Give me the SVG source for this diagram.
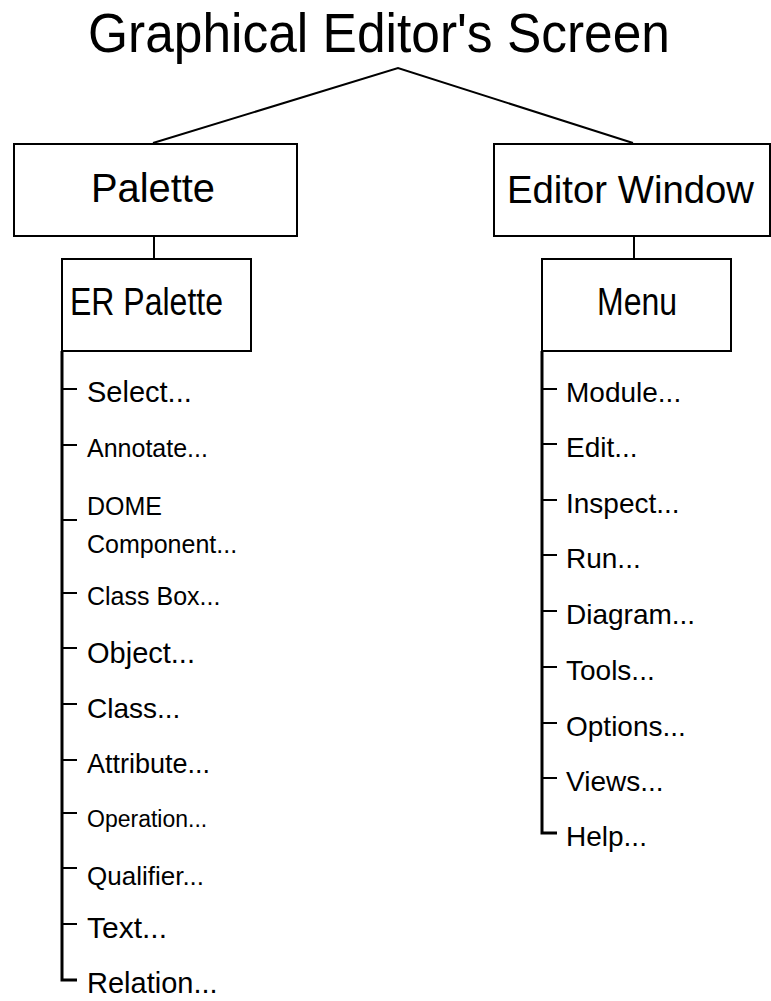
<svg xmlns="http://www.w3.org/2000/svg" width="771" height="1001" viewBox="0 0 771 1001">
  <style>
    text { font-family: "Liberation Sans", Arial, sans-serif; fill: #000; }
    .box { fill: #fff; stroke: #000; stroke-width: 2; }
    .link { fill: none; stroke: #000; stroke-width: 2; }
    .trunk { fill: none; stroke: #000; stroke-width: 3; }
    .tick { stroke: #000; stroke-width: 2; }
  </style>
  <rect width="771" height="1001" fill="#fff"/>

  <!-- title -->
  <g id="title">
    <text x="88" y="52" font-size="55" textLength="582" lengthAdjust="spacingAndGlyphs">Graphical Editor's Screen</text>
  </g>

  <!-- connectors -->
  <g id="connectors">
    <polyline class="link" points="153,143 398,68 633,143"/>
    <line class="link" x1="154" y1="237" x2="154" y2="259"/>
    <line class="link" x1="634" y1="237" x2="634" y2="259"/>
    <!-- ER palette tree -->
    <path class="trunk" d="M62 351 V980 H77"/>
    <g class="tick">
      <line x1="62" y1="389" x2="77" y2="389"/>
      <line x1="62" y1="445" x2="77" y2="445"/>
      <line x1="62" y1="520" x2="77" y2="520"/>
      <line x1="62" y1="593" x2="77" y2="593"/>
      <line x1="62" y1="648" x2="77" y2="648"/>
      <line x1="62" y1="704" x2="77" y2="704"/>
      <line x1="62" y1="760" x2="77" y2="760"/>
      <line x1="62" y1="813" x2="77" y2="813"/>
      <line x1="62" y1="868" x2="77" y2="868"/>
      <line x1="62" y1="924" x2="77" y2="924"/>
    </g>
    <!-- menu tree -->
    <path class="trunk" d="M542 351 V833 H557"/>
    <g class="tick">
      <line x1="542" y1="389" x2="557" y2="389"/>
      <line x1="542" y1="444" x2="557" y2="444"/>
      <line x1="542" y1="500" x2="557" y2="500"/>
      <line x1="542" y1="555" x2="557" y2="555"/>
      <line x1="542" y1="611" x2="557" y2="611"/>
      <line x1="542" y1="667" x2="557" y2="667"/>
      <line x1="542" y1="723" x2="557" y2="723"/>
      <line x1="542" y1="778" x2="557" y2="778"/>
    </g>
  </g>

  <!-- nodes -->
  <g id="palette">
    <rect class="box" x="14" y="144" width="283" height="92"/>
    <text x="91" y="202" font-size="40" textLength="124" lengthAdjust="spacingAndGlyphs">Palette</text>
  </g>
  <g id="editor-window">
    <rect class="box" x="494" y="144" width="276" height="92"/>
    <text x="507" y="203" font-size="39" textLength="247" lengthAdjust="spacingAndGlyphs">Editor Window</text>
  </g>
  <g id="er-palette">
    <rect class="box" x="62" y="259" width="189" height="92"/>
    <text x="70" y="315" font-size="38" textLength="153" lengthAdjust="spacingAndGlyphs">ER Palette</text>
  </g>
  <g id="menu">
    <rect class="box" x="542" y="259" width="189" height="92"/>
    <text x="597" y="315" font-size="38" textLength="80" lengthAdjust="spacingAndGlyphs">Menu</text>
  </g>

  <!-- ER palette entries -->
  <g id="er-palette-items">
    <text x="87" y="402" font-size="29">Select...</text>
    <text x="87" y="457" font-size="25">Annotate...</text>
    <text x="87" y="515" font-size="25">DOME</text>
    <text x="87" y="553" font-size="25">Component...</text>
    <text x="87" y="605" font-size="25">Class Box...</text>
    <text x="87" y="663" font-size="29">Object...</text>
    <text x="87" y="718" font-size="28">Class...</text>
    <text x="87" y="773" font-size="27">Attribute...</text>
    <text x="87" y="827" font-size="23">Operation...</text>
    <text x="87" y="885" font-size="26">Qualifier...</text>
    <text x="87" y="938" font-size="30">Text...</text>
    <text x="87" y="993" font-size="29">Relation...</text>
  </g>

  <!-- menu entries -->
  <g id="menu-items" font-size="28">
    <text x="566" y="402">Module...</text>
    <text x="566" y="457">Edit...</text>
    <text x="566" y="513">Inspect...</text>
    <text x="566" y="568">Run...</text>
    <text x="566" y="624">Diagram...</text>
    <text x="566" y="680">Tools...</text>
    <text x="566" y="736">Options...</text>
    <text x="566" y="791">Views...</text>
    <text x="566" y="846">Help...</text>
  </g>
</svg>
